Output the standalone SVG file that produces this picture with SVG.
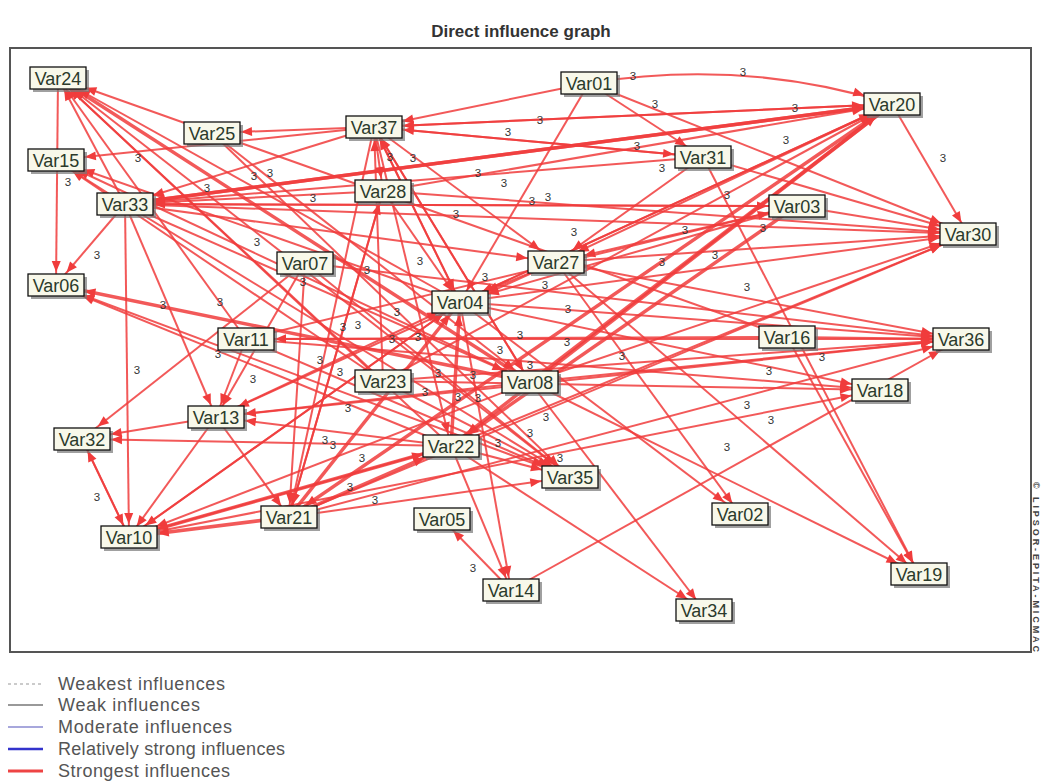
<svg xmlns="http://www.w3.org/2000/svg" width="1041" height="783" viewBox="0 0 1041 783">
<style>
.e{stroke:#f03c3c;stroke-width:2;stroke-opacity:.85;fill:none}
.t{stroke-width:3.5}
.mk{fill:#f03c3c}
.sh{fill:#777;opacity:.7}
.bx{fill:#f8f8ea;stroke:#111;stroke-width:1.3}
.nt{font-family:"Liberation Sans",Arial,sans-serif;font-size:18px;fill:#2b3a2b;text-anchor:middle}
.lb{font-family:"Liberation Sans",Arial,sans-serif;font-size:11.5px;fill:#333;text-anchor:middle}
.lg{font-family:"Liberation Sans",Arial,sans-serif;font-size:18px;fill:#555}
</style>
<defs>
<marker id="A" markerUnits="userSpaceOnUse" markerWidth="40" markerHeight="20" refX="29" refY="0" orient="auto" overflow="visible"><path class="mk" d="M-11,-4.5L0,0L-11,4.5Z"/></marker>
<marker id="B" markerUnits="userSpaceOnUse" markerWidth="40" markerHeight="20" refX="24" refY="0" orient="auto" overflow="visible"><path class="mk" d="M-11,-4.5L0,0L-11,4.5Z"/></marker>
<marker id="C" markerUnits="userSpaceOnUse" markerWidth="40" markerHeight="20" refX="20" refY="0" orient="auto" overflow="visible"><path class="mk" d="M-11,-4.5L0,0L-11,4.5Z"/></marker>
<marker id="D" markerUnits="userSpaceOnUse" markerWidth="40" markerHeight="20" refX="16" refY="0" orient="auto" overflow="visible"><path class="mk" d="M-11,-4.5L0,0L-11,4.5Z"/></marker>
<marker id="E" markerUnits="userSpaceOnUse" markerWidth="40" markerHeight="20" refX="13" refY="0" orient="auto" overflow="visible"><path class="mk" d="M-11,-4.5L0,0L-11,4.5Z"/></marker>
</defs>
<rect width="1041" height="783" fill="#fff"/>
<text x="521" y="37" font-family="'Liberation Sans',Arial,sans-serif" font-size="17" font-weight="bold" fill="#333" text-anchor="middle">Direct influence graph</text>
<rect x="10" y="48" width="1021" height="604" fill="#fff" stroke="#555" stroke-width="2"/>
<text transform="translate(1033,482) rotate(90)" font-family="'Liberation Sans',Arial,sans-serif" font-size="9" font-weight="bold" fill="#444" textLength="170">© LIPSOR-EPITA-MICMAC</text>
<g id="connectors">
<line class="e" x1="58" y1="78" x2="56" y2="285" marker-end="url(#E)"/>
<line class="e" x1="125" y1="204" x2="56" y2="285" marker-end="url(#D)"/>
<line class="e" x1="125" y1="204" x2="58" y2="78" marker-end="url(#E)"/>
<line class="e" x1="125" y1="204" x2="56" y2="160" marker-end="url(#C)"/>
<line class="e" x1="125" y1="204" x2="129" y2="537" marker-end="url(#E)"/>
<line class="e" x1="125" y1="204" x2="216" y2="417" marker-end="url(#E)"/>
<line class="e" x1="374" y1="127" x2="56" y2="160" marker-end="url(#A)"/>
<line class="e" x1="374" y1="127" x2="212" y2="133" marker-end="url(#A)"/>
<line class="e" x1="374" y1="127" x2="125" y2="204" marker-end="url(#A)"/>
<line class="e" x1="374" y1="127" x2="383" y2="191" marker-end="url(#E)"/>
<line class="e" x1="374" y1="127" x2="460" y2="302" marker-end="url(#E)"/>
<line class="e" x1="374" y1="127" x2="556" y2="262" marker-end="url(#C)"/>
<line class="e" x1="374" y1="127" x2="289" y2="517" marker-end="url(#E)"/>
<line class="e" x1="374" y1="127" x2="892" y2="104" marker-end="url(#A)"/>
<line class="e" x1="374" y1="127" x2="703" y2="157" marker-end="url(#A)"/>
<line class="e" x1="589" y1="83" x2="374" y2="127" marker-end="url(#A)"/>
<path class="e" d="M589,83 Q745,58 892,104" marker-end="url(#A)"/>
<line class="e" x1="589" y1="83" x2="703" y2="157" marker-end="url(#C)"/>
<line class="e" x1="589" y1="83" x2="968" y2="234" marker-end="url(#A)"/>
<line class="e" x1="589" y1="83" x2="460" y2="302" marker-end="url(#E)"/>
<line class="e" x1="892" y1="104" x2="968" y2="234" marker-end="url(#E)"/>
<line class="e" x1="892" y1="104" x2="374" y2="127" marker-end="url(#A)"/>
<line class="e t" x1="892" y1="104" x2="125" y2="204" marker-end="url(#A)"/>
<line class="e" x1="892" y1="104" x2="556" y2="262" marker-end="url(#B)"/>
<line class="e" x1="892" y1="104" x2="460" y2="302" marker-end="url(#B)"/>
<line class="e t" x1="892" y1="104" x2="451" y2="446" marker-end="url(#C)"/>
<line class="e t" x1="892" y1="104" x2="289" y2="517" marker-end="url(#C)"/>
<line class="e" x1="703" y1="157" x2="374" y2="127" marker-end="url(#A)"/>
<line class="e" x1="703" y1="157" x2="125" y2="204" marker-end="url(#A)"/>
<line class="e" x1="703" y1="157" x2="556" y2="262" marker-end="url(#C)"/>
<line class="e" x1="703" y1="157" x2="968" y2="234" marker-end="url(#A)"/>
<line class="e" x1="703" y1="157" x2="919" y2="574" marker-end="url(#E)"/>
<line class="e" x1="797" y1="206" x2="125" y2="204" marker-end="url(#A)"/>
<line class="e" x1="797" y1="206" x2="968" y2="234" marker-end="url(#A)"/>
<line class="e" x1="797" y1="206" x2="556" y2="262" marker-end="url(#A)"/>
<line class="e t" x1="125" y1="204" x2="892" y2="104" marker-end="url(#A)"/>
<line class="e" x1="125" y1="204" x2="797" y2="206" marker-end="url(#A)"/>
<line class="e" x1="125" y1="204" x2="968" y2="234" marker-end="url(#A)"/>
<line class="e" x1="125" y1="204" x2="530" y2="382" marker-end="url(#A)"/>
<line class="e" x1="125" y1="204" x2="570" y2="477" marker-end="url(#C)"/>
<line class="e" x1="383" y1="191" x2="125" y2="204" marker-end="url(#A)"/>
<line class="e" x1="383" y1="191" x2="892" y2="104" marker-end="url(#A)"/>
<line class="e" x1="383" y1="191" x2="289" y2="517" marker-end="url(#E)"/>
<line class="e" x1="383" y1="191" x2="968" y2="234" marker-end="url(#A)"/>
<line class="e" x1="556" y1="262" x2="460" y2="302" marker-end="url(#A)"/>
<line class="e" x1="556" y1="262" x2="968" y2="234" marker-end="url(#A)"/>
<line class="e" x1="556" y1="262" x2="740" y2="514" marker-end="url(#E)"/>
<line class="e" x1="556" y1="262" x2="919" y2="574" marker-end="url(#D)"/>
<line class="e" x1="556" y1="262" x2="961" y2="339" marker-end="url(#A)"/>
<line class="e" x1="556" y1="262" x2="216" y2="417" marker-end="url(#B)"/>
<line class="e" x1="460" y1="302" x2="58" y2="78" marker-end="url(#B)"/>
<line class="e" x1="460" y1="302" x2="56" y2="160" marker-end="url(#A)"/>
<line class="e" x1="460" y1="302" x2="374" y2="127" marker-end="url(#E)"/>
<line class="e" x1="460" y1="302" x2="892" y2="104" marker-end="url(#B)"/>
<line class="e" x1="460" y1="302" x2="968" y2="234" marker-end="url(#A)"/>
<line class="e" x1="460" y1="302" x2="129" y2="537" marker-end="url(#C)"/>
<line class="e" x1="460" y1="302" x2="740" y2="514" marker-end="url(#C)"/>
<line class="e" x1="460" y1="302" x2="511" y2="590" marker-end="url(#E)"/>
<line class="e" x1="460" y1="302" x2="961" y2="339" marker-end="url(#A)"/>
<line class="e t" x1="530" y1="382" x2="58" y2="78" marker-end="url(#C)"/>
<line class="e" x1="530" y1="382" x2="56" y2="160" marker-end="url(#B)"/>
<line class="e" x1="530" y1="382" x2="374" y2="127" marker-end="url(#E)"/>
<line class="e t" x1="530" y1="382" x2="892" y2="104" marker-end="url(#C)"/>
<line class="e" x1="530" y1="382" x2="968" y2="234" marker-end="url(#A)"/>
<line class="e" x1="530" y1="382" x2="961" y2="339" marker-end="url(#A)"/>
<line class="e" x1="530" y1="382" x2="919" y2="574" marker-end="url(#B)"/>
<line class="e" x1="530" y1="382" x2="704" y2="610" marker-end="url(#E)"/>
<line class="e" x1="530" y1="382" x2="129" y2="537" marker-end="url(#A)"/>
<line class="e" x1="530" y1="382" x2="216" y2="417" marker-end="url(#A)"/>
<line class="e t" x1="530" y1="382" x2="56" y2="285" marker-end="url(#A)"/>
<line class="e" x1="383" y1="381" x2="58" y2="78" marker-end="url(#D)"/>
<line class="e" x1="383" y1="381" x2="56" y2="160" marker-end="url(#C)"/>
<line class="e" x1="383" y1="381" x2="374" y2="127" marker-end="url(#E)"/>
<line class="e" x1="383" y1="381" x2="892" y2="104" marker-end="url(#B)"/>
<line class="e" x1="383" y1="381" x2="570" y2="477" marker-end="url(#B)"/>
<line class="e" x1="383" y1="381" x2="880" y2="390" marker-end="url(#A)"/>
<line class="e" x1="383" y1="381" x2="961" y2="339" marker-end="url(#A)"/>
<line class="e" x1="246" y1="339" x2="961" y2="339" marker-end="url(#A)"/>
<line class="e" x1="246" y1="339" x2="216" y2="417" marker-end="url(#E)"/>
<line class="e" x1="246" y1="339" x2="570" y2="477" marker-end="url(#A)"/>
<line class="e" x1="246" y1="339" x2="797" y2="206" marker-end="url(#A)"/>
<line class="e" x1="246" y1="339" x2="58" y2="78" marker-end="url(#E)"/>
<line class="e" x1="787" y1="337" x2="961" y2="339" marker-end="url(#A)"/>
<line class="e" x1="787" y1="337" x2="246" y2="339" marker-end="url(#A)"/>
<line class="e" x1="787" y1="337" x2="919" y2="574" marker-end="url(#E)"/>
<line class="e" x1="787" y1="337" x2="58" y2="78" marker-end="url(#A)"/>
<line class="e" x1="451" y1="446" x2="82" y2="439" marker-end="url(#A)"/>
<line class="e" x1="451" y1="446" x2="216" y2="417" marker-end="url(#A)"/>
<line class="e" x1="451" y1="446" x2="511" y2="590" marker-end="url(#E)"/>
<line class="e" x1="451" y1="446" x2="570" y2="477" marker-end="url(#A)"/>
<line class="e" x1="451" y1="446" x2="704" y2="610" marker-end="url(#C)"/>
<line class="e t" x1="451" y1="446" x2="460" y2="302" marker-end="url(#E)"/>
<line class="e" x1="451" y1="446" x2="56" y2="285" marker-end="url(#A)"/>
<line class="e" x1="451" y1="446" x2="58" y2="78" marker-end="url(#D)"/>
<line class="e" x1="451" y1="446" x2="129" y2="537" marker-end="url(#A)"/>
<line class="e" x1="451" y1="446" x2="968" y2="234" marker-end="url(#A)"/>
<line class="e t" x1="289" y1="517" x2="451" y2="446" marker-end="url(#A)"/>
<line class="e t" x1="289" y1="517" x2="460" y2="302" marker-end="url(#D)"/>
<line class="e" x1="289" y1="517" x2="570" y2="477" marker-end="url(#A)"/>
<line class="e" x1="289" y1="517" x2="961" y2="339" marker-end="url(#A)"/>
<line class="e t" x1="289" y1="517" x2="129" y2="537" marker-end="url(#A)"/>
<line class="e" x1="289" y1="517" x2="383" y2="191" marker-end="url(#E)"/>
<line class="e" x1="289" y1="517" x2="968" y2="234" marker-end="url(#A)"/>
<line class="e" x1="216" y1="417" x2="289" y2="517" marker-end="url(#E)"/>
<line class="e" x1="216" y1="417" x2="82" y2="439" marker-end="url(#A)"/>
<line class="e" x1="216" y1="417" x2="129" y2="537" marker-end="url(#E)"/>
<line class="e" x1="216" y1="417" x2="460" y2="302" marker-end="url(#B)"/>
<line class="e" x1="129" y1="537" x2="82" y2="439" marker-end="url(#E)"/>
<line class="e" x1="82" y1="439" x2="129" y2="537" marker-end="url(#E)"/>
<line class="e t" x1="129" y1="537" x2="451" y2="446" marker-end="url(#A)"/>
<line class="e" x1="129" y1="537" x2="460" y2="302" marker-end="url(#C)"/>
<line class="e" x1="129" y1="537" x2="880" y2="390" marker-end="url(#A)"/>
<line class="e" x1="305" y1="263" x2="82" y2="439" marker-end="url(#C)"/>
<line class="e" x1="305" y1="263" x2="289" y2="517" marker-end="url(#E)"/>
<line class="e" x1="305" y1="263" x2="216" y2="417" marker-end="url(#E)"/>
<line class="e" x1="305" y1="263" x2="570" y2="477" marker-end="url(#C)"/>
<line class="e" x1="305" y1="263" x2="961" y2="339" marker-end="url(#A)"/>
<line class="e" x1="511" y1="590" x2="442" y2="519" marker-end="url(#D)"/>
<line class="e" x1="511" y1="590" x2="961" y2="339" marker-end="url(#B)"/>
<line class="e" x1="570" y1="477" x2="56" y2="285" marker-end="url(#A)"/>
<line class="e" x1="570" y1="477" x2="58" y2="78" marker-end="url(#C)"/>
<line class="e" x1="212" y1="133" x2="570" y2="477" marker-end="url(#D)"/>
<line class="e" x1="212" y1="133" x2="530" y2="382" marker-end="url(#C)"/>
<line class="e" x1="125" y1="204" x2="556" y2="262" marker-end="url(#A)"/>
<line class="e" x1="374" y1="127" x2="530" y2="382" marker-end="url(#E)"/>
<line class="e" x1="374" y1="127" x2="451" y2="446" marker-end="url(#E)"/>
<line class="e" x1="383" y1="191" x2="460" y2="302" marker-end="url(#E)"/>
<line class="e" x1="797" y1="206" x2="460" y2="302" marker-end="url(#A)"/>
<line class="e t" x1="797" y1="206" x2="451" y2="446" marker-end="url(#C)"/>
<line class="e" x1="460" y1="302" x2="880" y2="390" marker-end="url(#A)"/>
<line class="e" x1="216" y1="417" x2="961" y2="339" marker-end="url(#A)"/>
<line class="e" x1="246" y1="339" x2="880" y2="390" marker-end="url(#A)"/>
</g>
<g id="labels" class="lb">
<text x="743" y="76">3</text><text x="633" y="80">3</text><text x="655" y="108">3</text><text x="795" y="112">3</text>
<text x="540" y="124">3</text><text x="508" y="136">3</text><text x="637" y="150">3</text><text x="786" y="144">3</text>
<text x="943" y="162">3</text><text x="662" y="172">3</text><text x="727" y="199">3</text><text x="763" y="232">3</text>
<text x="685" y="234">3</text><text x="715" y="259">3</text><text x="747" y="291">3</text><text x="138" y="162">3</text>
<text x="68" y="186">3</text><text x="207" y="192">3</text><text x="254" y="180">3</text><text x="270" y="177">3</text>
<text x="313" y="202">3</text><text x="257" y="246">3</text><text x="97" y="259">3</text><text x="390" y="161">3</text>
<text x="413" y="162">3</text><text x="478" y="177">3</text><text x="504" y="187">3</text><text x="532" y="205">3</text>
<text x="548" y="201">3</text><text x="456" y="218">3</text><text x="574" y="236">3</text><text x="420" y="265">3</text>
<text x="485" y="281">3</text><text x="545" y="289">3</text><text x="662" y="266">3</text><text x="367" y="274">3</text>
<text x="397" y="316">3</text><text x="343" y="331">3</text><text x="358" y="329">3</text><text x="392" y="343">3</text>
<text x="418" y="341">3</text><text x="568" y="313">3</text><text x="520" y="339">3</text><text x="567" y="346">3</text>
<text x="622" y="360">3</text><text x="500" y="354">3</text><text x="530" y="369">3</text><text x="438" y="377">3</text>
<text x="473" y="379">3</text><text x="425" y="396">3</text><text x="458" y="401">3</text><text x="478" y="402">3</text>
<text x="348" y="412">3</text><text x="546" y="421">3</text><text x="530" y="437">3</text><text x="498" y="447">3</text>
<text x="560" y="462">3</text><text x="362" y="462">3</text><text x="350" y="491">3</text><text x="375" y="504">3</text>
<text x="325" y="444">3</text><text x="333" y="449">3</text><text x="163" y="309">3</text><text x="220" y="306">3</text>
<text x="137" y="374">3</text><text x="320" y="364">3</text><text x="340" y="376">3</text><text x="253" y="383">3</text>
<text x="218" y="358">3</text><text x="97" y="501">3</text><text x="473" y="572">3</text><text x="822" y="361">3</text>
<text x="769" y="375">3</text><text x="747" y="409">3</text><text x="771" y="424">3</text><text x="727" y="451">3</text>
<text x="303" y="286">3</text>
</g>
<g id="nodes">
<g id="Var24" transform="translate(58,78)"><rect class="sh" x="-25" y="-8" width="56" height="22"/><rect class="bx" x="-28" y="-11" width="56" height="22"/><text class="nt" y="6.5">Var24</text></g>
<g id="Var15" transform="translate(56,160)"><rect class="sh" x="-25" y="-8" width="56" height="22"/><rect class="bx" x="-28" y="-11" width="56" height="22"/><text class="nt" y="6.5">Var15</text></g>
<g id="Var25" transform="translate(212,133)"><rect class="sh" x="-25" y="-8" width="56" height="22"/><rect class="bx" x="-28" y="-11" width="56" height="22"/><text class="nt" y="6.5">Var25</text></g>
<g id="Var33" transform="translate(125,204)"><rect class="sh" x="-25" y="-8" width="56" height="22"/><rect class="bx" x="-28" y="-11" width="56" height="22"/><text class="nt" y="6.5">Var33</text></g>
<g id="Var37" transform="translate(374,127)"><rect class="sh" x="-25" y="-8" width="56" height="22"/><rect class="bx" x="-28" y="-11" width="56" height="22"/><text class="nt" y="6.5">Var37</text></g>
<g id="Var01" transform="translate(589,83)"><rect class="sh" x="-25" y="-8" width="56" height="22"/><rect class="bx" x="-28" y="-11" width="56" height="22"/><text class="nt" y="6.5">Var01</text></g>
<g id="Var28" transform="translate(383,191)"><rect class="sh" x="-25" y="-8" width="56" height="22"/><rect class="bx" x="-28" y="-11" width="56" height="22"/><text class="nt" y="6.5">Var28</text></g>
<g id="Var31" transform="translate(703,157)"><rect class="sh" x="-25" y="-8" width="56" height="22"/><rect class="bx" x="-28" y="-11" width="56" height="22"/><text class="nt" y="6.5">Var31</text></g>
<g id="Var20" transform="translate(892,104)"><rect class="sh" x="-25" y="-8" width="56" height="22"/><rect class="bx" x="-28" y="-11" width="56" height="22"/><text class="nt" y="6.5">Var20</text></g>
<g id="Var03" transform="translate(797,206)"><rect class="sh" x="-25" y="-8" width="56" height="22"/><rect class="bx" x="-28" y="-11" width="56" height="22"/><text class="nt" y="6.5">Var03</text></g>
<g id="Var30" transform="translate(968,234)"><rect class="sh" x="-25" y="-8" width="56" height="22"/><rect class="bx" x="-28" y="-11" width="56" height="22"/><text class="nt" y="6.5">Var30</text></g>
<g id="Var06" transform="translate(56,285)"><rect class="sh" x="-25" y="-8" width="56" height="22"/><rect class="bx" x="-28" y="-11" width="56" height="22"/><text class="nt" y="6.5">Var06</text></g>
<g id="Var07" transform="translate(305,263)"><rect class="sh" x="-25" y="-8" width="56" height="22"/><rect class="bx" x="-28" y="-11" width="56" height="22"/><text class="nt" y="6.5">Var07</text></g>
<g id="Var27" transform="translate(556,262)"><rect class="sh" x="-25" y="-8" width="56" height="22"/><rect class="bx" x="-28" y="-11" width="56" height="22"/><text class="nt" y="6.5">Var27</text></g>
<g id="Var04" transform="translate(460,302)"><rect class="sh" x="-25" y="-8" width="56" height="22"/><rect class="bx" x="-28" y="-11" width="56" height="22"/><text class="nt" y="6.5">Var04</text></g>
<g id="Var11" transform="translate(246,339)"><rect class="sh" x="-25" y="-8" width="56" height="22"/><rect class="bx" x="-28" y="-11" width="56" height="22"/><text class="nt" y="6.5">Var11</text></g>
<g id="Var16" transform="translate(787,337)"><rect class="sh" x="-25" y="-8" width="56" height="22"/><rect class="bx" x="-28" y="-11" width="56" height="22"/><text class="nt" y="6.5">Var16</text></g>
<g id="Var36" transform="translate(961,339)"><rect class="sh" x="-25" y="-8" width="56" height="22"/><rect class="bx" x="-28" y="-11" width="56" height="22"/><text class="nt" y="6.5">Var36</text></g>
<g id="Var23" transform="translate(383,381)"><rect class="sh" x="-25" y="-8" width="56" height="22"/><rect class="bx" x="-28" y="-11" width="56" height="22"/><text class="nt" y="6.5">Var23</text></g>
<g id="Var08" transform="translate(530,382)"><rect class="sh" x="-25" y="-8" width="56" height="22"/><rect class="bx" x="-28" y="-11" width="56" height="22"/><text class="nt" y="6.5">Var08</text></g>
<g id="Var18" transform="translate(880,390)"><rect class="sh" x="-25" y="-8" width="56" height="22"/><rect class="bx" x="-28" y="-11" width="56" height="22"/><text class="nt" y="6.5">Var18</text></g>
<g id="Var13" transform="translate(216,417)"><rect class="sh" x="-25" y="-8" width="56" height="22"/><rect class="bx" x="-28" y="-11" width="56" height="22"/><text class="nt" y="6.5">Var13</text></g>
<g id="Var32" transform="translate(82,439)"><rect class="sh" x="-25" y="-8" width="56" height="22"/><rect class="bx" x="-28" y="-11" width="56" height="22"/><text class="nt" y="6.5">Var32</text></g>
<g id="Var22" transform="translate(451,446)"><rect class="sh" x="-25" y="-8" width="56" height="22"/><rect class="bx" x="-28" y="-11" width="56" height="22"/><text class="nt" y="6.5">Var22</text></g>
<g id="Var35" transform="translate(570,477)"><rect class="sh" x="-25" y="-8" width="56" height="22"/><rect class="bx" x="-28" y="-11" width="56" height="22"/><text class="nt" y="6.5">Var35</text></g>
<g id="Var10" transform="translate(129,537)"><rect class="sh" x="-25" y="-8" width="56" height="22"/><rect class="bx" x="-28" y="-11" width="56" height="22"/><text class="nt" y="6.5">Var10</text></g>
<g id="Var21" transform="translate(289,517)"><rect class="sh" x="-25" y="-8" width="56" height="22"/><rect class="bx" x="-28" y="-11" width="56" height="22"/><text class="nt" y="6.5">Var21</text></g>
<g id="Var05" transform="translate(442,519)"><rect class="sh" x="-25" y="-8" width="56" height="22"/><rect class="bx" x="-28" y="-11" width="56" height="22"/><text class="nt" y="6.5">Var05</text></g>
<g id="Var02" transform="translate(740,514)"><rect class="sh" x="-25" y="-8" width="56" height="22"/><rect class="bx" x="-28" y="-11" width="56" height="22"/><text class="nt" y="6.5">Var02</text></g>
<g id="Var14" transform="translate(511,590)"><rect class="sh" x="-25" y="-8" width="56" height="22"/><rect class="bx" x="-28" y="-11" width="56" height="22"/><text class="nt" y="6.5">Var14</text></g>
<g id="Var19" transform="translate(919,574)"><rect class="sh" x="-25" y="-8" width="56" height="22"/><rect class="bx" x="-28" y="-11" width="56" height="22"/><text class="nt" y="6.5">Var19</text></g>
<g id="Var34" transform="translate(704,610)"><rect class="sh" x="-25" y="-8" width="56" height="22"/><rect class="bx" x="-28" y="-11" width="56" height="22"/><text class="nt" y="6.5">Var34</text></g>
</g>
<g id="legend">
<line x1="8" y1="684" x2="43" y2="684" stroke="#bbb" stroke-width="1.5" stroke-dasharray="3,3"/>
<line x1="8" y1="705" x2="43" y2="705" stroke="#777" stroke-width="1.5"/>
<line x1="8" y1="727" x2="43" y2="727" stroke="#8a8ad0" stroke-width="1.5"/>
<line x1="8" y1="749" x2="43" y2="749" stroke="#3333cc" stroke-width="2.5"/>
<line x1="8" y1="771" x2="43" y2="771" stroke="#ee4444" stroke-width="3"/>
<text class="lg" x="58" y="690" textLength="167">Weakest influences</text>
<text class="lg" x="58" y="711" textLength="142">Weak influences</text>
<text class="lg" x="58" y="733" textLength="174">Moderate influences</text>
<text class="lg" x="58" y="755" textLength="227">Relatively strong influences</text>
<text class="lg" x="58" y="777" textLength="172">Strongest influences</text>
</g>
</svg>
